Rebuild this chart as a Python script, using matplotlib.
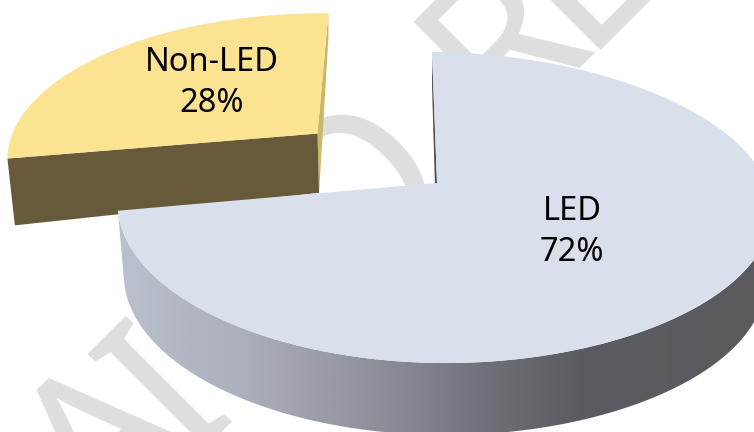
import numpy as np
import matplotlib
matplotlib.use("Agg")
import matplotlib.pyplot as plt
from matplotlib.colors import LinearSegmentedColormap
from matplotlib.patches import Polygon

labels = ["LED", "Non-LED"]
shares = [72, 28]

top_colors = ["#D9DFEB", "#FBE391"]
cut_colors = ["#4C4E56", "#665A3B"]
inner_color = "#C8B868"
mark_color = "#DEDEDE"

# projection of the pie plane onto the page
CX, CY = 437.0, 183.0
RX, KY, PERSP = 316.0, -122.8, 0.1576
SKEW = 0.045
SHEAR_X, TILT_Y = 3.0, 3.0
START = -0.5
EXPLODE = (-0.395, 0.335)
PULLED_RADIUS = 1.012


def project(u, v, depth=0.0):
    w = 1 + PERSP * v
    x = CX + (RX * u * (1 + SKEW * np.clip(u, 0, None)) - SHEAR_X * v) / w
    y = (CY + KY * v) / w + TILT_Y * u
    if depth:
        # thickness shrinks towards the back, sides lean in a little
        h = np.clip(72 - 38 * np.clip(v, 0, None), 25, None)
        lean = 0.02 * np.clip(1 - v, 0, 1)
        x = CX + (x - CX) * (1 - lean)
        y = y + h
    return np.column_stack([x, y]) if np.ndim(u) else np.array([x, y])


def rim(a0, a1, offset=(0, 0), depth=0.0, radius=1.0, n=200):
    t = np.radians(np.linspace(a0, a1, n))
    return project(radius * np.sin(t) + offset[0], radius * np.cos(t) + offset[1], depth)


fig = plt.figure(figsize=(7.54, 4.32), dpi=100)
ax = fig.add_axes([0, 0, 1, 1])
ax.set_xlim(0, 754)
ax.set_ylim(432, 0)
ax.axis("off")

font = "Noto Sans"

# background stamp letters running up the page, placed by baseline centre
for ch, x, y in [("A", 151, 491), ("I", 211, 435), ("O", 400, 236), ("R", 546, 82), ("E", 622, 9)]:
    ax.text(x, y, ch, fontsize=151, family=font, color=mark_color, rotation=45,
            rotation_mode="anchor", ha="center", va="baseline", zorder=1)

sweep = 360 * shares[0] / sum(shares)
split = START + sweep

# Non-LED slice, pulled out towards the back
apex = project(EXPLODE[0], EXPLODE[1])
apex_low = project(EXPLODE[0], EXPLODE[1], 1)
a_top = rim(START, START, EXPLODE, radius=PULLED_RADIUS, n=1)[0]
a_low = rim(START, START, EXPLODE, 1, PULLED_RADIUS, n=1)[0]
b_top = rim(split, split, EXPLODE, radius=PULLED_RADIUS, n=1)[0]
b_low = rim(split, split, EXPLODE, 1, PULLED_RADIUS, n=1)[0]
ax.add_patch(Polygon([a_top, apex, apex_low, a_low], fc=inner_color, ec="none", zorder=2))
ax.add_patch(Polygon([b_top, apex, apex_low, b_low], fc=cut_colors[1], ec="none", zorder=3))
ax.add_patch(Polygon(np.vstack([[apex], rim(split, START + 360, EXPLODE, radius=PULLED_RADIUS)]),
                     fc=top_colors[1], ec="none", zorder=4))

# LED slice: back cut face, curved wall with shading, then the top
c_top = rim(START, START, n=1)[0]
c_low = rim(START, START, depth=1, n=1)[0]
ax.add_patch(Polygon([c_top, project(0, 0), project(0, 0, 1), c_low],
                     fc=cut_colors[0], ec="none", zorder=5))

wall = Polygon(np.vstack([rim(92, split), rim(92, split, depth=1)[::-1]]),
               fc="none", ec="none", zorder=6)
ax.add_patch(wall)
shade = LinearSegmentedColormap.from_list(
    "wall", [(0.0, "#BAC0CD"), (0.2, "#ABAFBB"), (0.4, "#8E919A"), (0.58, "#6E7077"),
             (0.72, "#5B5C61"), (1.0, "#59595E")])
img = ax.imshow(np.linspace(0, 1, 512)[None, :], cmap=shade, extent=[117, 760, 440, 100],
                aspect="auto", zorder=6)
img.set_clip_path(wall)
ax.set_xlim(0, 754)
ax.set_ylim(432, 0)

ax.add_patch(Polygon(np.vstack([[project(0, 0)], rim(START, split)]),
                     fc=top_colors[0], ec="none", zorder=7))

# slice labels
ax.text(572, 232, f"{labels[0]}\n{shares[0]}%", fontsize=23.5, family=font, color="black",
        ha="center", va="center", linespacing=1.3, zorder=8)
ax.text(212, 83, f"{labels[1]}\n{shares[1]}%", fontsize=23.5, family=font, color="black",
        ha="center", va="center", linespacing=1.3, zorder=8)

fig.savefig("out.png", dpi=100)
